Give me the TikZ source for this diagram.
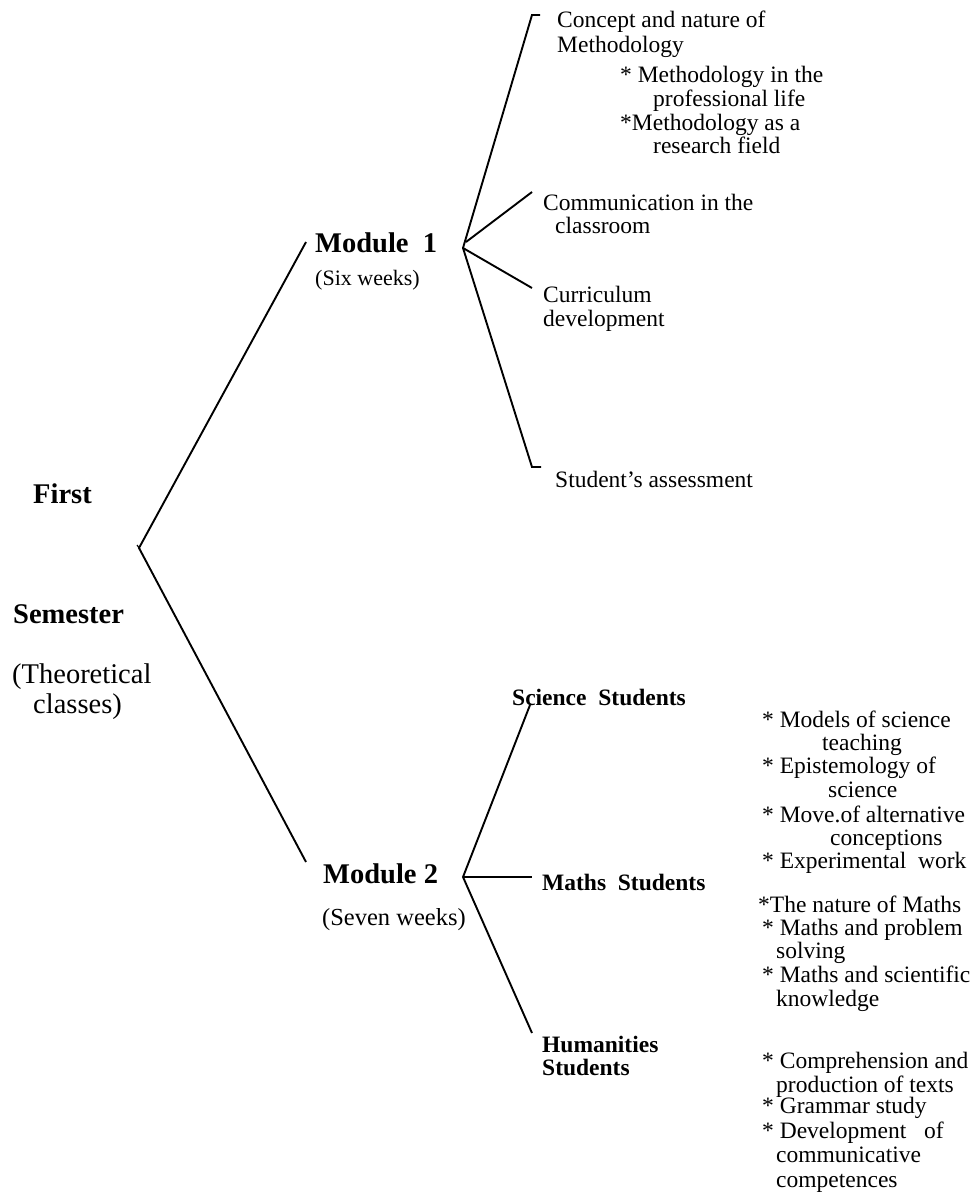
\documentclass[tikz,border=0pt]{standalone}
\usepackage{fontspec}
\setmainfont{Liberation Serif}
\begin{document}
\begin{tikzpicture}[x=1pt, y=-1pt,
  txt/.style={anchor=base west, inner sep=0pt, font=\fontsize{23.5}{24}\selectfont},
  small/.style={anchor=base west, inner sep=0pt, font=\fontsize{22}{24}\selectfont},
  big/.style={anchor=base west, inner sep=0pt, font=\fontsize{28.5}{30}\selectfont},
  head/.style={anchor=base west, inner sep=0pt, font=\fontsize{28.5}{30}\selectfont\bfseries},
  sub/.style={anchor=base west, inner sep=0pt, font=\fontsize{23.5}{24}\selectfont\bfseries},
  branch/.style={line width=1.9pt}]
\fill[white] (0,0) rectangle (978,1193);
\useasboundingbox (0,0) rectangle (978,1193);

% ---- left: semester ----
\node[head] (first) at (33,503) {First};
\node[head] (semester) at (13,623) {Semester};
\node[big] (theo) at (12,683) {(Theoretical};
\node[big] (classes) at (33,713) {classes)};

% ---- modules ----
\node[head] (mod1) at (315,252) {Module\ \ 1};
\node[small] (six) at (315,285) {(Six weeks)};
\node[head] (mod2) at (323,883) {Module 2};
\node[txt, font=\fontsize{24.5}{26}\selectfont] (seven) at (322,925) {(Seven weeks)};

% ---- module 1 topics ----
\node[txt] (concept1) at (557,28) {Concept and nature of};
\node[txt] (concept2) at (557,53) {Methodology};
\node[txt] (prof1) at (620,83) {* Methodology in the};
\node[txt] (prof2) at (653,107) {professional life};
\node[txt] (res1) at (620,131) {*Methodology as a};
\node[txt] (res2) at (653,154) {research field};
\node[txt] (comm1) at (543,210) {Communication in the};
\node[txt] (comm2) at (555,233) {classroom};
\node[txt] (curr1) at (543,302) {Curriculum};
\node[txt] (curr2) at (543,326) {development};
\node[txt] (assess) at (555,487) {Student’s assessment};

% ---- module 2 groups ----
\node[sub] (sci) at (512,705) {Science\ \ Students};
\node[sub] (mat) at (542,890) {Maths\ \ Students};
\node[sub] (hum1) at (542,1052) {Humanities};
\node[sub] (hum2) at (542,1075) {Students};

% science contents
\node[txt] (s1) at (762,727) {* Models of science};
\node[txt] (s1b) at (822,750) {teaching};
\node[txt] (s2) at (762,773) {* Epistemology of};
\node[txt] (s2b) at (828,797) {science};
\node[txt] (s3) at (762,822) {* Move.of alternative};
\node[txt] (s3b) at (830,845) {conceptions};
\node[txt] (s4) at (762,868) {* Experimental\ \ work};

% maths contents
\node[txt] (m1) at (758,912) {*The nature of Maths};
\node[txt] (m2) at (762,935) {* Maths and problem};
\node[txt] (m2b) at (776,958) {solving};
\node[txt] (m3) at (762,982) {* Maths and scientific};
\node[txt] (m3b) at (776,1006) {knowledge};

% humanities contents
\node[txt] (h1) at (762,1068) {* Comprehension and};
\node[txt] (h1b) at (776,1092) {production of texts};
\node[txt] (h2) at (762,1113) {* Grammar study};
\node[txt] (h3) at (762,1138) {* Development\ \ \ of};
\node[txt] (h3b) at (776,1162) {communicative};
\node[txt] (h3c) at (776,1187) {competences};

% ---- branch points and line ends ----
\coordinate (root) at (139,548);
\coordinate (up) at (306,242);
\coordinate (down) at (306,862);
\coordinate (hub1) at (463,248);
\coordinate (hub1b) at (466,242);
\coordinate (hub2) at (463,877);
\coordinate (cTop) at (532,15);
\coordinate (cTopT) at (540,15);
\coordinate (cComm) at (532,192);
\coordinate (cCurr) at (532,288);
\coordinate (cAss) at (532,467);
\coordinate (cAssT) at (541,467);
\coordinate (cSci) at (530,705);
\coordinate (cMat) at (532,877);
\coordinate (cHum) at (532,1033);

% ---- tree lines ----
\draw[branch] (up) -- (root) -- (down);
\draw[branch, line width=1.2pt] (root) ++(-2,-3) -- ++(3,4);
\draw[branch] (cTopT) -- (cTop) -- (hub1) -- (cAss) -- (cAssT);
\draw[branch] (hub1b) -- (cComm);
\draw[branch] (hub1) -- (cCurr);
\draw[branch] (cSci) -- (hub2) -- (cHum);
\draw[branch] (hub2) -- (cMat);
\end{tikzpicture}
\end{document}
